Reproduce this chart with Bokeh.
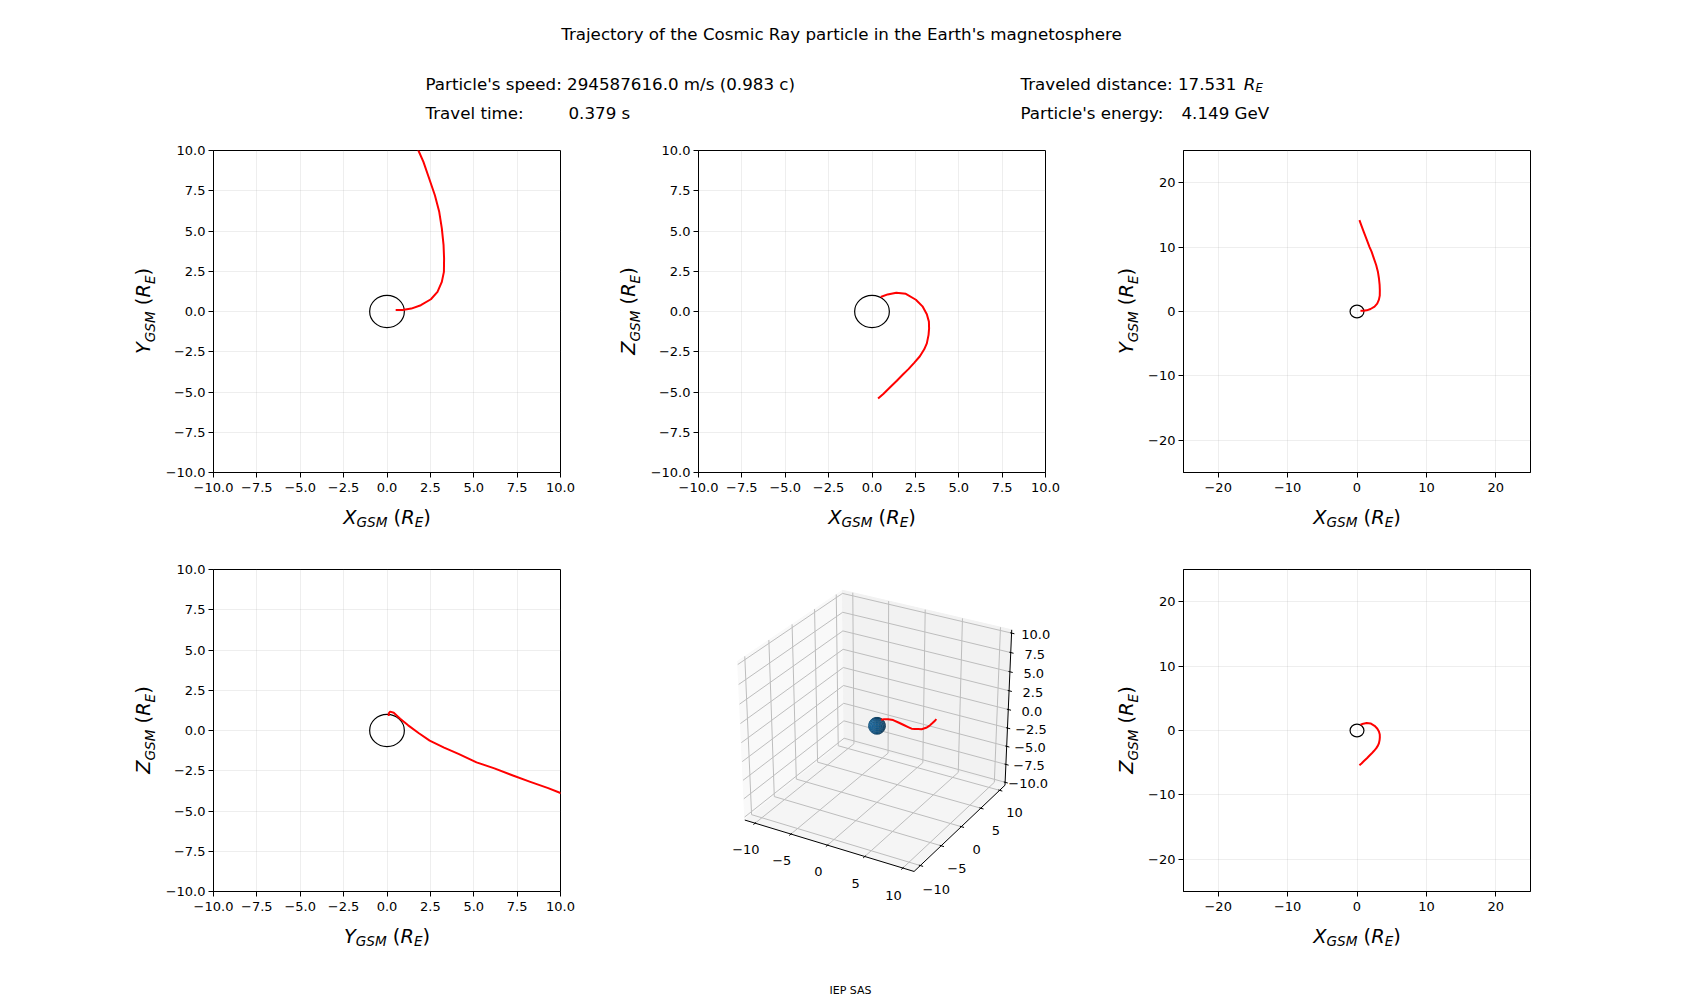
import numpy as np
from bokeh.plotting import figure
from bokeh.models import Range1d, FixedTicker, Label, Div
from bokeh.layouts import column, row
from bokeh.embed import file_html
from bokeh.resources import INLINE
from bokeh.core.properties import value

# ---------------- data ----------------
traj_x = [0.50, 0.90, 1.40, 1.95, 2.53, 2.91, 3.16, 3.28, 3.29, 3.26, 3.16, 3.01, 2.76, 2.43, 2.10, 1.81, 1.43, 1.00, 0.65, 0.35]
traj_y = [0.10, 0.10, 0.18, 0.39, 0.76, 1.22, 1.84, 2.46, 3.29, 4.12, 5.16, 6.19, 7.22, 8.26, 9.29, 10.00, 11.07, 12.30, 13.30, 14.18]
traj_z = [0.90, 1.06, 1.17, 1.10, 0.73, 0.32, -0.17, -0.63, -1.06, -1.45, -1.98, -2.35, -2.78, -3.19, -3.58, -3.88, -4.30, -4.75, -5.12, -5.40]
earth_radius = 1.0

title_text = "Trajectory of the Cosmic Ray particle in the Earth's magnetosphere"
speed_text = "Particle's speed: 294587616.0 m/s (0.983 c)"
time_label = "Travel time:"
time_value = "0.379 s"
distance_text = "Traveled distance: 17.531 "
energy_label = "Particle's energy:"
energy_value = "4.149 GeV"
footer_text = "IEP SAS"

ticks_small = [-10.0, -7.5, -5.0, -2.5, 0.0, 2.5, 5.0, 7.5, 10.0]
labels_small = ["\u221210.0", "\u22127.5", "\u22125.0", "\u22122.5", "0.0", "2.5", "5.0", "7.5", "10.0"]
ticks_wide = [-20, -10, 0, 10, 20]
labels_wide = ["\u221220", "\u221210", "0", "10", "20"]
ticks_3d_xy = [-10, -5, 0, 5, 10]
labels_3d_xy = ["\u221210", "\u22125", "0", "5", "10"]
limits_3d = [(-11.0, 11.0), (-11.0, 11.0), (-10.0, 10.0)]

# ---------------- style / layout constants ----------------
FONT = "DejaVu Sans"
TICK_FS = "13px"
LAB, SUB, DROP = 19.4, 13.6, 4.5
EM = {"X": 0.684, "Y": 0.611, "Z": 0.686, "G": 0.776, "S": 0.635, "M": 0.863,
      " ": 0.318, "(": 0.390, ")": 0.390, "R": 0.695, "E": 0.632}
HEAD_H, FOOT_H = 128, 30
TOP_B, FRAME_H, BOT_B = 22, 322, 26
HA = TOP_B + FRAME_H + BOT_B
ROW_H = 419
HB = ROW_H - HA
XLAB_BASE = 18.6


def tw(s, size):
    return sum(EM[c] for c in s) * size


def clean(p):
    p.grid.visible = False
    p.outline_line_color = None
    p.title.visible = False


def bare(width, height, xr, yr, **kw):
    p = figure(width=width, height=height, x_range=Range1d(*xr), y_range=Range1d(*yr),
               toolbar_location=None, output_backend="svg",
               x_axis_location=None, y_axis_location=None, **kw)
    clean(p)
    return p


def add_math_label(p, letter, x, y):
    pieces = [(letter, LAB, "italic", 0.0), ("GSM", SUB, "italic", DROP), (" ", LAB, "normal", 0.0),
              ("(", LAB, "normal", 0.0), ("R", LAB, "italic", 0.0), ("E", SUB, "italic", DROP),
              (")", LAB, "normal", 0.0)]
    total = sum(tw(t, s) for t, s, _, _ in pieces)
    pos = -total / 2
    for t, s, style, drop in pieces:
        w = tw(t, s)
        if t.strip():
            p.add_layout(Label(x=x, y=y, x_offset=pos, y_offset=-drop, text=t, text_font=FONT,
                               text_font_size=f"{s}px", text_font_style=style, text_color="black",
                               text_align="left", text_baseline="alphabetic"))
        pos += w


def panel(width, left, right, lim, ticks, labels, hx, hy):
    p = figure(width=width, height=HA, x_range=Range1d(-lim, lim), y_range=Range1d(-lim, lim),
               min_border_left=left, min_border_right=right, min_border_top=TOP_B,
               min_border_bottom=BOT_B, toolbar_location=None, output_backend="svg")
    p.title.visible = False
    for ax in (p.xaxis[0], p.yaxis[0]):
        ax.ticker = FixedTicker(ticks=ticks)
        ax.major_label_overrides = dict(zip(ticks, labels))
        ax.axis_line_color = "black"
        ax.axis_line_width = 1
        ax.major_tick_line_color = "black"
        ax.major_tick_line_width = 1
        ax.major_tick_out = 5
        ax.major_tick_in = 0
        ax.minor_tick_line_color = None
        ax.major_label_text_font = FONT
        ax.major_label_text_font_size = TICK_FS
        ax.major_label_text_color = "black"
    p.xaxis.major_label_standoff = 5
    p.yaxis.major_label_standoff = 3
    p.grid.grid_line_color = "#b0b0b0"
    p.grid.grid_line_alpha = 0.22
    p.outline_line_color = "black"
    p.outline_line_width = 1
    p.ellipse(x=[0], y=[0], width=[2 * earth_radius], height=[2 * earth_radius],
              fill_color=None, line_color="black", line_width=1.2)
    p.line(hx, hy, line_color="red", line_width=2, line_join="round")
    return p


def ylabel_strip(width, base_x, letter):
    # rotated axis title as real HTML text: baseline at base_x, centred on the frame
    sub = f'font-size:{SUB}px;vertical-align:-{DROP}px;line-height:0;'
    html = (
        f'<div style="position:relative;width:{width}px;height:{HA}px;margin:0;padding:0;">'
        f'<div style="position:absolute;left:{base_x - 0.846 * LAB:.2f}px;top:{TOP_B + FRAME_H / 2:.2f}px;'
        f'transform-origin:0 0;transform:rotate(-90deg) translateX(-50%);white-space:nowrap;'
        f"font-family:'DejaVu Sans';font-size:{LAB}px;line-height:{LAB}px;color:black;margin:0;padding:0;\">"
        f'<i>{letter}</i><sub style="{sub}"><i>GSM</i></sub> (<i>R</i><sub style="{sub}"><i>E</i></sub>)'
        '</div></div>')
    return Div(text=html, width=width, height=HA, margin=0)


def xlabel_strip(width, center_x, letter):
    p = bare(width, HB, (0, width), (0, HB), min_border=0)
    add_math_label(p, letter, center_x, HB - XLAB_BASE)
    return p


def hlabel(p, x, y, text, size="16.7px", style="normal", align="left"):
    p.add_layout(Label(x=x, y=y, text=text, text_font=FONT, text_font_size=size,
                       text_font_style=style, text_color="black", text_align=align,
                       text_baseline="alphabetic"))


# ---------------- header ----------------
head = bare(1692, HEAD_H, (0, 1692), (0, HEAD_H), min_border=0)
hlabel(head, 841, HEAD_H - 33.7, title_text, align="center")
hlabel(head, 425, HEAD_H - 83.7, speed_text)
hlabel(head, 425, HEAD_H - 112.7, time_label)
hlabel(head, 568, HEAD_H - 112.7, time_value)
hlabel(head, 1020, HEAD_H - 83.7, distance_text)
hlabel(head, 1020 + 223.3, HEAD_H - 83.7, "R", style="italic")
hlabel(head, 1020 + 223.3 + 11.6, HEAD_H - 83.7 - 3.5, "E", size="11.7px", style="italic")
hlabel(head, 1020, HEAD_H - 112.7, energy_label)
hlabel(head, 1181, HEAD_H - 112.7, energy_value)

# ---------------- 2D panels ----------------
# column widths: 580 | 485 | 627 ; frame lefts at 213, 698, 1183 (347 wide)
p1 = panel(419, 52, 20, 10, ticks_small, labels_small, traj_x, traj_y)
p2 = panel(419, 52, 20, 10, ticks_small, labels_small, traj_x, traj_z)
p3 = panel(549, 40, 162, 25, ticks_wide, labels_wide, traj_x, traj_y)
p4 = panel(419, 52, 20, 10, ticks_small, labels_small, traj_y, traj_z)
p6 = panel(549, 40, 162, 25, ticks_wide, labels_wide, traj_x, traj_z)

col1 = column(row(ylabel_strip(161, 150.7, "Y"), p1), xlabel_strip(580, 386.5, "X"))
col2 = column(row(ylabel_strip(66, 55.7, "Z"), p2), xlabel_strip(485, 291.5, "X"))
col3 = column(row(ylabel_strip(78, 68.3, "Y"), p3), xlabel_strip(627, 291.5, "X"))
col4 = column(row(ylabel_strip(161, 150.7, "Z"), p4), xlabel_strip(580, 386.5, "Y"))
col6 = column(row(ylabel_strip(78, 68.3, "Z"), p6), xlabel_strip(627, 291.5, "X"))

# ---------------- 3D panel (matplotlib-style projection) ----------------
el, az = np.deg2rad(30.0), np.deg2rad(-60.0)
LO = np.array([l[0] for l in limits_3d])
HI = np.array([l[1] for l in limits_3d])
Rc = np.array([0.5, 0.5, 0.5])
ps = np.array([np.cos(el) * np.cos(az), np.cos(el) * np.sin(az), np.sin(el)])
Eye = Rc + 10.0 * ps
nvec = (Eye - Rc) / np.linalg.norm(Eye - Rc)
uvec = np.cross([0.0, 0.0, 1.0], nvec)
uvec /= np.linalg.norm(uvec)
vvec = np.cross(nvec, uvec)


def project(x, y, z):
    P = np.vstack([np.atleast_1d(x), np.atleast_1d(y), np.atleast_1d(z)]).astype(float)
    P = (P - LO[:, None]) / (HI - LO)[:, None]
    D = P - Eye[:, None]
    xv, yv, zv = uvec @ D, vvec @ D, nvec @ D
    return xv / (-zv), yv / (-zv), -zv


sx, sy = 347 / 0.185, 322 / 0.185
cell_left, cell_bottom = 118.3, 75.3
x0 = -0.095 - cell_left / sx
y0 = -0.095 - cell_bottom / sy
p5 = bare(485, ROW_H, (x0, x0 + 485 / sx), (y0, y0 + ROW_H / sy), min_border=0)

dl = (HI - LO) / 12.0
A0 = LO - dl / 4
A1 = HI + dl / 4
xa0, ya0, za0 = A0
xa1, ya1, za1 = A1
panes = [
    ([xa0, xa0, xa0, xa0], [ya0, ya1, ya1, ya0], [za0, za0, za1, za1], "#f9f9f9"),
    ([xa0, xa1, xa1, xa0], [ya1, ya1, ya1, ya1], [za0, za0, za1, za1], "#f2f2f2"),
    ([xa0, xa1, xa1, xa0], [ya0, ya0, ya1, ya1], [za0, za0, za0, za0], "#f5f5f5"),
]
for X, Y, Z, c in panes:
    px, py, _ = project(X, Y, Z)
    p5.patch(px, py, fill_color=c, line_color=c, line_width=1)

grid_col = "#bdbdbd"
for t in ticks_3d_xy:
    px, py, _ = project([t, t, t], [ya0, ya1, ya1], [za0, za0, za1])
    p5.line(px, py, line_color=grid_col, line_width=1)
    px, py, _ = project([xa0, xa0, xa1], [t, t, t], [za1, za0, za0])
    p5.line(px, py, line_color=grid_col, line_width=1)
for t in ticks_small:
    px, py, _ = project([xa1, xa0, xa0], [ya1, ya1, ya0], [t, t, t])
    p5.line(px, py, line_color=grid_col, line_width=1)

for X, Y, Z in [([xa0, xa1], [ya0, ya0], [za0, za0]), ([xa1, xa1], [ya1, ya0], [za0, za0]),
                ([xa1, xa1], [ya1, ya1], [za0, za1])]:
    px, py, _ = project(X, Y, Z)
    p5.line(px, py, line_color="black", line_width=1)

lab_d = (3.5 + 8.0) * (48.0 / (72.0 * (3.47 + 3.22))) * dl
tx_l, ty_l, tt_l = [], [], []
for t, s in zip(ticks_3d_xy, labels_3d_xy):
    px, py, _ = project([t, t], [ya0 + 0.1 * dl[1], ya0 - 0.2 * dl[1]], [za0, za0])
    p5.line(px, py, line_color="black", line_width=1)
    lx, ly, _ = project(t, ya0 - lab_d[1], za0 - lab_d[2])
    tx_l.append(lx[0]); ty_l.append(ly[0]); tt_l.append(s)
    px, py, _ = project([xa1 - 0.1 * dl[0], xa1 + 0.2 * dl[0]], [t, t], [za0, za0])
    p5.line(px, py, line_color="black", line_width=1)
    lx, ly, _ = project(xa1 + lab_d[0], t, za0 - lab_d[2])
    tx_l.append(lx[0]); ty_l.append(ly[0]); tt_l.append(s)
for t, s in zip(ticks_small, labels_small):
    px, py, _ = project([xa1 - 0.1 * dl[0], xa1 + 0.2 * dl[0]], [ya1, ya1], [t, t])
    p5.line(px, py, line_color="black", line_width=1)
    lx, ly, _ = project(xa1 + lab_d[0], ya1 + lab_d[1], t)
    tx_l.append(lx[0]); ty_l.append(ly[0]); tt_l.append(s)
p5.text(x=tx_l, y=ty_l, text=tt_l, text_align="center", text_baseline="top",
        text_font=value(FONT), text_font_size=value(TICK_FS), text_color="black")

# Earth sphere
lon = np.linspace(0, 2 * np.pi, 25)
lat = np.linspace(0, np.pi, 13)
light = np.array([-0.6667, -0.6667, 0.3333])
base = np.array([31, 119, 180])
faces = []
for i in range(len(lon) - 1):
    for j in range(len(lat) - 1):
        lo_c = [lon[i], lon[i + 1], lon[i + 1], lon[i]]
        la_c = [lat[j], lat[j], lat[j + 1], lat[j + 1]]
        X = earth_radius * np.cos(lo_c) * np.sin(la_c)
        Y = earth_radius * np.sin(lo_c) * np.sin(la_c)
        Z = earth_radius * np.cos(la_c)
        nrm = np.array([X.mean(), Y.mean(), Z.mean()])
        nrm /= np.linalg.norm(nrm)
        if nrm @ ps <= 0:
            continue
        px, py, dep = project(X, Y, Z)
        f = 0.6 + 0.4 * (nrm @ light + 1) / 2
        col = "#%02x%02x%02x" % tuple(int(c) for c in base * f)
        ecol = "#%02x%02x%02x" % tuple(int(c) for c in base * f * 0.6)
        faces.append((dep.mean(), list(px), list(py), col, ecol))
faces.sort(key=lambda q: -q[0])
p5.patches([q[1] for q in faces], [q[2] for q in faces], fill_color=[q[3] for q in faces],
           line_color=[q[4] for q in faces], line_width=0.3)

px, py, _ = project(traj_x, traj_y, traj_z)
p5.line(px, py, line_color="red", line_width=2, line_join="round")

# ---------------- footer ----------------
foot = bare(1692, FOOT_H, (0, 1692), (0, FOOT_H), min_border=0)
hlabel(foot, 850, FOOT_H - 23.6, footer_text, size="11px", align="center")

layout = column(head, row(col1, col2, col3), row(col4, p5, col6), foot)
open("out.html", "w").write(file_html(layout, INLINE))
